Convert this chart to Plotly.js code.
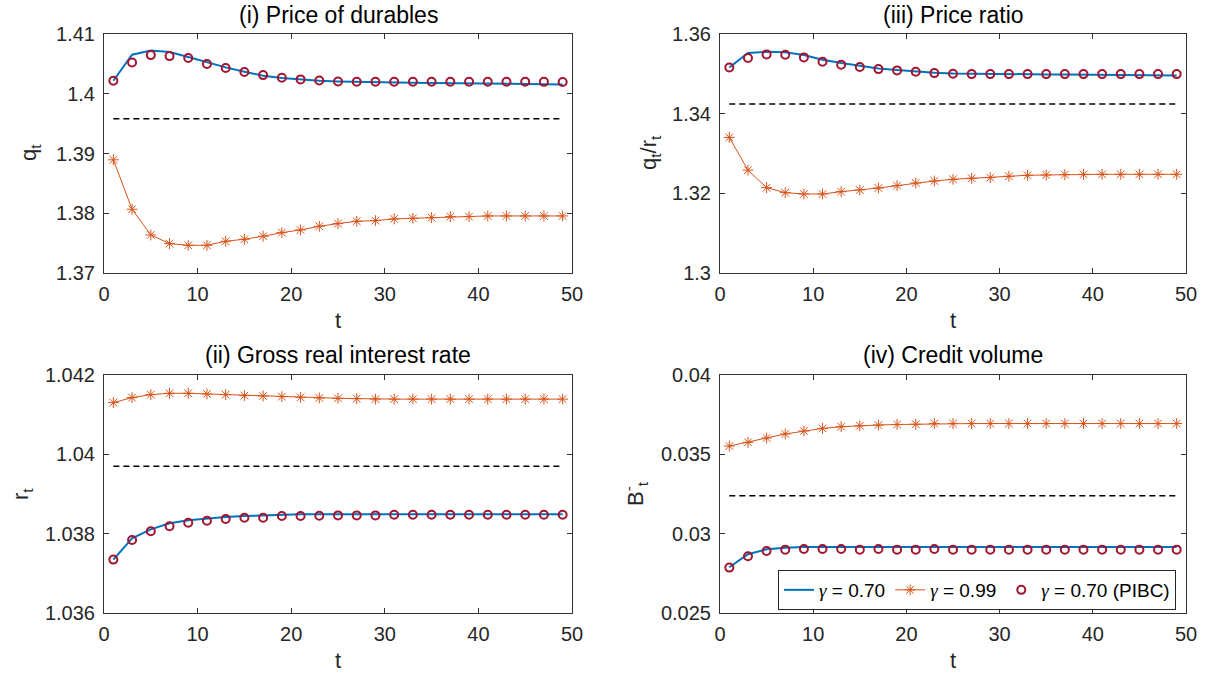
<!DOCTYPE html>
<html>
<head>
<meta charset="utf-8">
<script src="https://cdn.plot.ly/plotly-3.0.1.min.js"></script>
<style>html,body{margin:0;padding:0;background:#fff;}#chart{width:1216px;height:677px;}</style>
</head>
<body>
<div id="chart"></div>
<script>
// ---- data ----
const t = [1,3,5,7,9,11,13,15,17,19,21,23,25,27,29,31,33,35,37,39,41,43,45,47,49];

// (i) price of durables q_t
const q_g70  = [1.40218,1.40653,1.40725,1.40697,1.40614,1.40524,1.40441,1.40368,1.40301,1.40262,1.40234,1.40218,1.40206,1.40198,1.40192,1.40190,1.40184,1.40181,1.40179,1.40173,1.40170,1.40167,1.40165,1.40162,1.40156];
const q_g99  = [1.38894,1.38067,1.37637,1.37492,1.37464,1.37464,1.37531,1.37565,1.37615,1.37676,1.37721,1.37782,1.37827,1.37866,1.37877,1.37905,1.37916,1.37927,1.37944,1.37944,1.37955,1.37955,1.37955,1.37955,1.37955];
const q_pibc = [1.40218,1.40524,1.40647,1.40630,1.40597,1.40497,1.40430,1.40363,1.40312,1.40268,1.40240,1.40223,1.40206,1.40201,1.40201,1.40200,1.40200,1.40200,1.40200,1.40200,1.40200,1.40200,1.40200,1.40199,1.40197];
const q_ss = 1.39582;

// (iii) price ratio q_t/r_t
const p_g70  = [1.35161,1.35522,1.35555,1.35539,1.35471,1.35354,1.35270,1.35203,1.35136,1.35094,1.35052,1.35027,1.35010,1.35002,1.34997,1.34993,1.34989,1.34985,1.34981,1.34977,1.34973,1.34969,1.34965,1.34962,1.34960];
const p_g99  = [1.33404,1.32582,1.32143,1.32017,1.31983,1.31983,1.32042,1.32084,1.32134,1.32193,1.32260,1.32310,1.32352,1.32378,1.32394,1.32428,1.32453,1.32461,1.32470,1.32478,1.32478,1.32478,1.32478,1.32478,1.32478];
const p_pibc = [1.35161,1.35396,1.35488,1.35480,1.35413,1.35304,1.35228,1.35170,1.35119,1.35086,1.35052,1.35018,1.35002,1.34993,1.34993,1.34993,1.34993,1.34993,1.34993,1.34993,1.34993,1.34993,1.34993,1.34993,1.34993];
const p_ss = 1.34243;

// (ii) gross real interest rate r_t
const r_g70  = [1.037346,1.037883,1.038109,1.038260,1.038336,1.038386,1.038420,1.038445,1.038461,1.038470,1.038487,1.038487,1.038487,1.038487,1.038487,1.038487,1.038487,1.038487,1.038487,1.038487,1.038487,1.038487,1.038487,1.038487,1.038487];
const r_g99  = [1.041304,1.041430,1.041505,1.041539,1.041539,1.041522,1.041505,1.041480,1.041471,1.041455,1.041438,1.041421,1.041413,1.041404,1.041392,1.041392,1.041392,1.041392,1.041392,1.041392,1.041392,1.041392,1.041392,1.041392,1.041392];
const r_pibc = [1.037346,1.037841,1.038059,1.038185,1.038277,1.038327,1.038369,1.038403,1.038403,1.038445,1.038445,1.038453,1.038461,1.038461,1.038461,1.038478,1.038478,1.038478,1.038478,1.038478,1.038478,1.038478,1.038478,1.038478,1.038478];
const r_ss = 1.039698;

// (iv) credit volume B_t
const b_g70  = [0.027881,0.028700,0.029014,0.029119,0.029161,0.029161,0.029161,0.029161,0.029161,0.029161,0.029161,0.029161,0.029161,0.029161,0.029161,0.029161,0.029161,0.029161,0.029161,0.029161,0.029161,0.029161,0.029161,0.029161,0.029161];
const b_g99  = [0.035524,0.035755,0.036030,0.036283,0.036468,0.036636,0.036741,0.036804,0.036846,0.036880,0.036898,0.036940,0.036940,0.036940,0.036940,0.036940,0.036940,0.036940,0.036940,0.036940,0.036940,0.036940,0.036940,0.036940,0.036940];
const b_pibc = [0.027860,0.028574,0.028909,0.028993,0.029035,0.029035,0.029035,0.028993,0.029035,0.028993,0.028993,0.029035,0.028993,0.028993,0.028993,0.028993,0.028993,0.028993,0.028993,0.028993,0.028993,0.028993,0.028993,0.028993,0.028993];
const b_ss = 0.032391;

const xTicks = [0,10,20,30,40,50];
const yTicksQ = [1.37,1.38,1.39,1.40,1.41];
const yTickTextQ = ['1.37','1.38','1.39','1.4','1.41'];
const yTicksP = [1.30,1.32,1.34,1.36];
const yTickTextP = ['1.3','1.32','1.34','1.36'];
const yTicksR = [1.036,1.038,1.040,1.042];
const yTickTextR = ['1.036','1.038','1.04','1.042'];
const yTicksB = [0.025,0.030,0.035,0.040];
const yTickTextB = ['0.025','0.03','0.035','0.04'];

const panelTitles = ['(i) Price of durables','(iii) Price ratio','(ii) Gross real interest rate','(iv) Credit volume'];
const yLabels = ['q<sub>t</sub>','q<sub>t</sub>/r<sub>t</sub>','r<sub>t</sub>','B<sup>-</sup><sub>t</sub>'];
const xLabel = 't';
const G = '<span style="font-family:Liberation Serif"><i>γ</i></span>';
const legendNames = [G + ' = 0.70', G + ' = 0.99', G + ' = 0.70 (PIBC)'];

// ---- styles ----
const BLUE = '#0072BD', ORANGE = '#D95319', RED = '#A2142F';
const panels = [
  {xa:'x',  ya:'y',  g70:q_g70, g99:q_g99, pibc:q_pibc, ss:q_ss},
  {xa:'x2', ya:'y2', g70:p_g70, g99:p_g99, pibc:p_pibc, ss:p_ss},
  {xa:'x3', ya:'y3', g70:r_g70, g99:r_g99, pibc:r_pibc, ss:r_ss},
  {xa:'x4', ya:'y4', g70:b_g70, g99:b_g99, pibc:b_pibc, ss:b_ss},
];
const traces = [];
panels.forEach((p, i) => {
  const leg = (i === 3);
  traces.push({x:t, y:p.g70, xaxis:p.xa, yaxis:p.ya, mode:'lines', name:legendNames[0], showlegend:leg,
    line:{color:BLUE, width:2}});
  traces.push({x:t, y:p.g99, xaxis:p.xa, yaxis:p.ya, mode:'lines+markers', name:legendNames[1], showlegend:leg,
    line:{color:ORANGE, width:1}, marker:{symbol:'asterisk-open', size:9, color:ORANGE, line:{color:ORANGE, width:1}}});
  traces.push({x:t, y:p.pibc, xaxis:p.xa, yaxis:p.ya, mode:'markers', name:legendNames[2], showlegend:leg,
    marker:{symbol:'circle-open', size:8, color:RED, line:{color:RED, width:2}}});
  traces.push({x:[t[0], t[t.length-1]], y:[p.ss, p.ss], xaxis:p.xa, yaxis:p.ya, mode:'lines', showlegend:false,
    line:{color:'#000', width:1.5, dash:'6px,4px'}});
});

const W = 1216, H = 677;
const fx = px => px / W, fy = py => 1 - py / H;
const L = [104, 572], R = [720, 1186], T = [34, 273], B = [375, 613];
const FAM = 'Liberation Sans, Arial, sans-serif';
const TICKFONT = {family:FAM, size:20, color:'#262626'};
const TFONT = {family:FAM, size:23, color:'#000'};
const LFONT = {family:FAM, size:22, color:'#262626'};
function xaxis(dom, anchor) {
  return {domain:[fx(dom[0]), fx(dom[1])], anchor:anchor, range:[0,50], tickvals:xTicks, ticks:'inside', ticklen:5,
    tickcolor:'#333', showline:true, linecolor:'#333', linewidth:1, mirror:'ticks', showgrid:false, zeroline:false,
    tickfont:TICKFONT, ticklabelstandoff:3, title:{text:xLabel, font:LFONT, standoff:8}};
}
function yaxis(dom, anchor, rng, vals, text) {
  return {domain:[fy(dom[1]), fy(dom[0])], anchor:anchor, range:rng, tickvals:vals, ticktext:text, ticks:'inside', ticklen:5,
    tickcolor:'#333', showline:true, linecolor:'#333', linewidth:1, mirror:'ticks', showgrid:false, zeroline:false,
    tickfont:TICKFONT, ticklabelstandoff:4};
}
function ann(text, x, y, font, angle) {
  return {text:text, x:fx(x), y:fy(y), xref:'paper', yref:'paper', showarrow:false, xanchor:'center', yanchor:'middle',
    font:font, textangle:angle || 0};
}
const layout = {
  width:W, height:H, margin:{l:0, r:0, t:0, b:0}, paper_bgcolor:'#fff', plot_bgcolor:'#fff',
  xaxis: xaxis(L, 'y'), yaxis: yaxis(T, 'x', [1.37, 1.41], yTicksQ, yTickTextQ),
  xaxis2: xaxis(R, 'y2'), yaxis2: yaxis(T, 'x2', [1.30, 1.36], yTicksP, yTickTextP),
  xaxis3: xaxis(L, 'y3'), yaxis3: yaxis(B, 'x3', [1.036, 1.042], yTicksR, yTickTextR),
  xaxis4: xaxis(R, 'y4'), yaxis4: yaxis(B, 'x4', [0.025, 0.040], yTicksB, yTickTextB),
  showlegend:true,
  legend:{orientation:'h', x:fx(1176), y:fy(590), xanchor:'right', yanchor:'middle', bgcolor:'#fff',
    bordercolor:'#262626', borderwidth:1, itemwidth:30, tracegroupgap:0,
    font:{family:FAM, size:19, color:'#000'}},
  annotations:[
    ann(panelTitles[0], 338, 15, TFONT),
    ann(panelTitles[1], 953, 15, TFONT),
    ann(panelTitles[2], 338, 355, TFONT),
    ann(panelTitles[3], 953, 355, TFONT),
    ann(yLabels[0], 30, 153, LFONT, -90),
    ann(yLabels[1], 650, 153, LFONT, -90),
    ann(yLabels[2], 22, 494, LFONT, -90),
    ann(yLabels[3], 635, 494, LFONT, -90)
  ]
};
Plotly.newPlot('chart', traces, layout, {displayModeBar:false});
</script>
</body>
</html>
